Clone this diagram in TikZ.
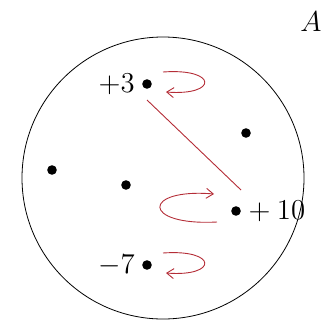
\documentclass[tikz,border=0pt]{standalone}
\usetikzlibrary{arrows.meta, calc}
\definecolor{setred}{RGB}{180,45,55}

\begin{document}
\begin{tikzpicture}[
  x=0.5pt, y=-0.5pt,
  dot/.style={circle, fill=black, inner sep=0pt, minimum size=4.8pt},
  lbl/.style={font=\fontsize{15}{17}\selectfont},
  selfmap/.style={-{Straight Barb[length=3.5pt, width=5pt]}, setred, line width=0.45pt},
  link/.style={setred, line width=0.45pt}
]
  \useasboundingbox (0,0) rectangle (324,320);

  % the set
  \draw (163,178) circle (141);
  \node[lbl] (name) at (311,22) {$A$};

  % elements
  \node[dot, label={[lbl, label distance=0pt]left:$+3$}] (p3) at (147,84) {};
  \node[dot] (pa) at (246,133) {};
  \node[dot] (pb) at (52,170) {};
  \node[dot] (pc) at (126,185) {};
  \node[dot, label={[lbl, label distance=-3pt]right:${}+10$}] (p10) at (236,211) {};
  \node[dot, label={[lbl, label distance=0pt]left:$-7$}] (m7) at (147,265) {};

  % maps
  \draw[selfmap] ($(p3)+(16,-12)$) .. controls +(55,-4) and +(52,4) .. ($(p3)+(19,8)$);
  \draw[selfmap] ($(m7)+(16,-12)$) .. controls +(55,-4) and +(52,4) .. ($(m7)+(19,8)$);
  \draw[selfmap] ($(p10)+(-19,11)$) .. controls +(-76,4) and +(-72,-6) .. ($(p10)+(-22,-17)$);
  \draw[link] ($(p3)+(0,16)$) -- ($(p10)+(5,-21)$);
\end{tikzpicture}
\end{document}
